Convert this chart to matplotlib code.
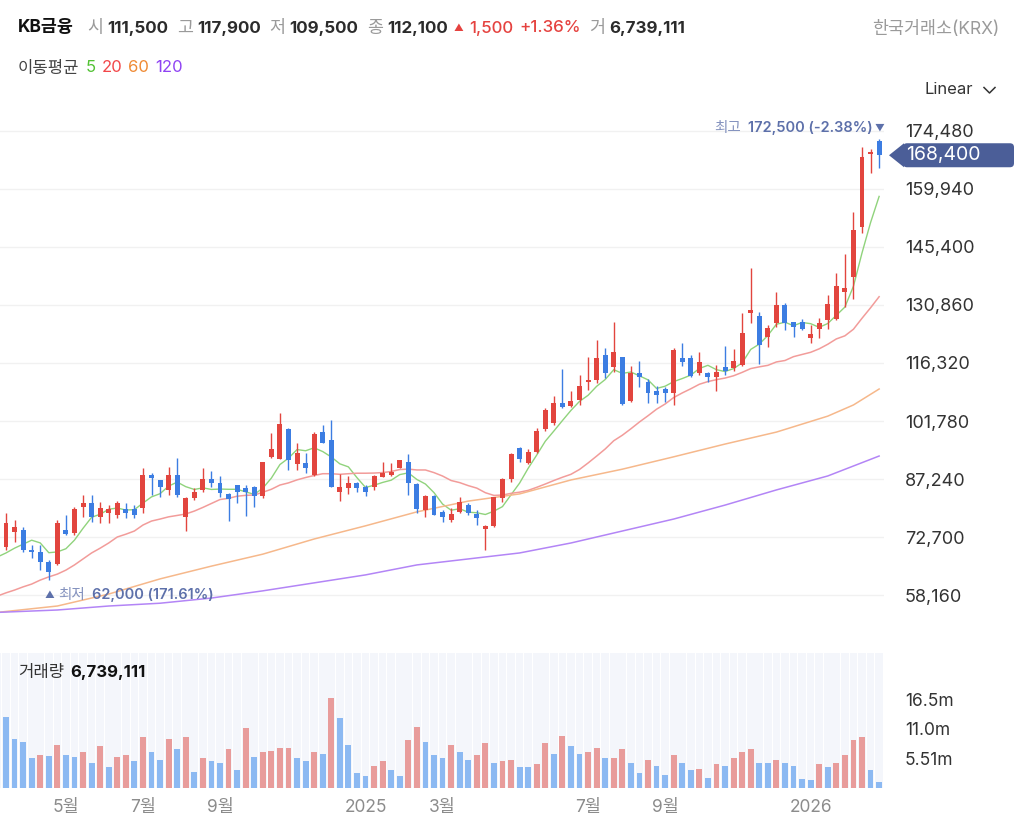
import numpy as np
import pandas as pd
import matplotlib
matplotlib.use("Agg")
import matplotlib.pyplot as plt
from matplotlib.patches import Polygon, FancyBboxPatch
from matplotlib.lines import Line2D
from matplotlib.transforms import IdentityTransform

plt.rcParams['font.family'] = ['Inter', 'Noto Sans CJK KR', 'DejaVu Sans']

# ------------------------------------------------------------------ data
stock_name = "KB금융"
exchange = "한국거래소(KRX)"
first_week = "2024-03-04"          # weekly candles
hover_index = 69                   # week shown in the header

opens = [68500, 70200, 73900, 74500, 69400, 68900, 66400, 65900, 74500, 73700,
         80200, 81200, 77700, 78700, 78200, 79700, 79700, 80000, 88200, 87000,
         84500, 88200, 77700, 82500, 84500, 87200, 86200, 83500, 85700, 85000,
         85200, 83000, 92800, 92200, 99800, 91000, 91200, 88200, 99000, 97000,
         84000, 85000, 86200, 85200, 85200, 87700, 88200, 90000, 91500, 86000,
         79500, 83000, 79000, 77000, 79000, 80700, 78500, 74700, 75500, 82500,
         87200, 95000, 91200, 94000, 99800, 101300, 106300, 105500, 107000, 111500,
         112100, 118300, 115300, 117800, 106800, 113800, 111600, 109300, 109800, 108800,
         117600, 117600, 113800, 113800, 112800, 115300, 115100, 115800, 128900, 128100,
         122800, 126300, 130900, 126600, 126600, 122600, 124800, 127100, 127300, 134100,
         137900, 150400, 168700, 172000]
highs = [70500, 78700, 77000, 75200, 70700, 70700, 66900, 77000, 78200, 80200,
         83200, 83200, 81500, 80700, 81700, 81200, 80700, 90000, 88700, 87000,
         90200, 92500, 82700, 85000, 90000, 89200, 88000, 83700, 85700, 85700,
         85500, 91500, 98800, 103800, 100000, 96300, 93800, 99000, 100800, 102000,
         88500, 88000, 86500, 85700, 88200, 91500, 91200, 92000, 93500, 86200,
         83200, 83200, 79500, 80000, 82700, 81200, 79500, 75700, 82700, 87500,
         93800, 95300, 94800, 100000, 105000, 108000, 114800, 109300, 113300, 117900,
         122100, 120100, 126600, 117800, 115600, 116800, 112300, 110600, 110300, 120100,
         121300, 118300, 119100, 114100, 115800, 120600, 119800, 128900, 140100, 129100,
         125800, 134100, 131400, 126600, 127300, 125800, 127600, 133400, 138900, 143600,
         154200, 170500, 170000, 172500]
lows = [67800, 69400, 71400, 68900, 67400, 64400, 62000, 65700, 73200, 73200,
        77700, 76500, 76200, 76200, 77500, 77500, 77500, 78700, 83200, 82700,
        83200, 82700, 74200, 82000, 84000, 85200, 82700, 76700, 81200, 78000,
        80200, 82500, 92500, 92200, 89500, 89500, 88700, 88000, 96300, 85200,
        81700, 83500, 84000, 83000, 84500, 87700, 88000, 90000, 83200, 78700,
        77700, 78200, 76500, 76500, 78700, 78200, 75700, 69400, 75200, 81500,
        86500, 91500, 91000, 93800, 99300, 100800, 105000, 105300, 105800, 109500,
        111300, 112600, 114100, 105800, 106500, 110300, 106300, 106300, 106500, 105800,
        115600, 112800, 113300, 111600, 109300, 113300, 114300, 115600, 126300, 116100,
        120300, 125300, 124600, 122800, 124600, 121300, 122600, 124800, 127100, 130400,
        132400, 148900, 163900, 165200]
closes = [70100, 76200, 75200, 69400, 68900, 66400, 63900, 76200, 73400, 79700,
          81200, 77700, 80000, 79700, 81200, 78700, 78200, 88200, 87500, 85200,
          88200, 83200, 82500, 84000, 87200, 86200, 83700, 82200, 84000, 84000,
          83000, 91500, 94800, 101000, 92000, 93800, 90000, 98500, 96300, 85200,
          85200, 86200, 85000, 84000, 88000, 88700, 89000, 92000, 86200, 79700,
          83000, 78200, 77700, 78500, 81500, 78700, 77500, 75500, 82700, 87200,
          93500, 92200, 94000, 99300, 104500, 106300, 105300, 106800, 110600, 112100,
          117600, 113800, 119100, 106000, 113800, 112800, 108800, 108300, 108800, 119600,
          116600, 113100, 116600, 112800, 114100, 114300, 116800, 123800, 129600, 120800,
          125100, 130900, 126300, 125300, 124800, 123600, 126300, 131100, 135600, 135100,
          149700, 168000, 169200, 168400]
volumes_m = [13.54, 13.29, 9.18, 8.56, 5.51, 6.07, 6.00, 8.06, 6.07, 5.82,
             6.63, 4.70, 7.75, 3.83, 5.82, 6.07, 4.95, 9.43, 6.63, 5.26,
             9.18, 7.19, 9.43, 3.02, 5.51, 4.95, 4.70, 7.19, 3.27, 11.11,
             5.82, 6.63, 6.94, 7.50, 7.55, 5.51, 4.95, 6.63, 6.38, 16.72,
             13.11, 8.06, 2.71, 2.15, 4.14, 4.95, 3.27, 2.15, 8.87, 11.43,
             8.62, 6.07, 5.51, 8.06, 6.63, 5.26, 6.07, 8.31, 4.70, 4.95,
             5.26, 3.89, 3.85, 4.39, 8.31, 6.38, 9.68, 7.75, 6.38, 6.739111,
             7.50, 5.51, 5.55, 7.19, 4.70, 2.71, 5.26, 4.14, 2.46, 6.07,
             4.70, 3.27, 3.58, 1.90, 4.39, 4.14, 5.51, 6.63, 7.19, 4.70,
             4.65, 5.26, 4.70, 4.14, 1.59, 1.55, 4.39, 3.83, 4.70, 6.07,
             8.87, 9.43, 3.27, 1.03]

# moving-average values before enough history is on screen
ma5_head = [67700, 68700, 69900, 70900, 71900]
ma20_head = [57900, 58700, 59400, 60200, 60900, 61900, 62700, 63400, 64400, 65700,
             67200, 68700, 69900, 71200, 72700, 73400, 74200, 75700, 76700, 77200]
ma_long_idx = [0, 7, 13, 19, 25, 31, 37, 43, 49, 55, 61, 67, 73, 79, 85, 91, 97, 100, 103]
ma60_vals = [53800, 55400, 58400, 62200, 65400, 68400, 72200, 75500, 79000, 81700,
             83500, 87000, 89700, 92800, 96000, 99000, 103000, 105800, 109800]
ma120_vals = [53800, 54400, 55400, 56100, 57400, 59200, 61200, 63200, 65700, 67200,
              68700, 71200, 74200, 77200, 80700, 84500, 88000, 90500, 93000]

price_ticks = [174480, 159940, 145400, 130860, 116320, 101780, 87240, 72700, 58160]
vol_ticks = [5.51e6, 11.02e6, 16.53e6]
vol_tick_labels = ['5.51m', '11.0m', '16.5m']
month_tick_dates = ['2024-05-02', '2024-07-01', '2024-09-02', '2025-01-02',
                    '2025-03-03', '2025-07-01', '2025-09-01', '2026-01-02']
month_tick_labels = ['5월', '7월', '9월', '2025', '3월', '7월', '9월', '2026']
ma_periods = ['5', '20', '60', '120']

# ------------------------------------------------------------------ style
UP = '#e2453e'
DOWN = '#3c7de2'
VUP = '#e89c9b'
VDOWN = '#8cb9f2'
STRIPE = '#f4f6fb'
MA_COLORS = ['#90d37c', '#f29c9a', '#f6b88b', '#b385f6']
LEG_COLORS = ['#52c234', '#f2474a', '#ef8a34', '#8f43f3']
TAG = '#4b5e98'
ANN_B = '#5d70aa'
ANN_L = '#8593bf'

W, H = 1024, 831
fig = plt.figure(figsize=(W / 100, H / 100), dpi=100, facecolor='white')


def fx(px):
    return px / W


def fy(py):
    return 1 - py / H


ax = fig.add_axes([0, fy(640), fx(884), (640 - 100) / H])
axv = fig.add_axes([0, fy(788), fx(884), (788 - 653) / H])

n = len(closes)
x = np.arange(n)
o = np.array(opens, float)
c = np.array(closes, float)
hi = np.array(highs, float)
lo = np.array(lows, float)
vol = np.array(volumes_m) * 1e6
dates = pd.date_range(first_week, periods=n, freq='7D')

# moving averages
cs = pd.Series(c)
ma5 = cs.rolling(5).mean().to_numpy()
ma5[:len(ma5_head)] = ma5_head
ma20 = cs.rolling(20).mean().to_numpy()
ma20[:len(ma20_head)] = ma20_head

ax.plot(x, ma5, color=MA_COLORS[0], lw=1.0, zorder=2)
ax.plot(x, ma20, color=MA_COLORS[1], lw=1.1, zorder=2)
ax.plot(ma_long_idx, ma60_vals, color=MA_COLORS[2], lw=1.1, zorder=2)
ax.plot(ma_long_idx, ma120_vals, color=MA_COLORS[3], lw=1.1, zorder=2)

# candles
up = c >= o
col = np.where(up, UP, DOWN)
ax.vlines(x, lo, hi, colors=col, lw=1.0, zorder=3)
body_h = np.maximum(np.abs(c - o), 350)
ax.bar(x, body_h, bottom=np.minimum(o, c), width=0.58, color=col, linewidth=0, zorder=4)

ax.set_xlim(0.3, 103.57)
ax.set_ylim(46880, 182250)
ax.set_yticks(price_ticks)
ax.set_yticklabels([f'{v:,}' for v in price_ticks])
ax.yaxis.tick_right()
ax.tick_params(axis='y', length=0, pad=15, labelsize=13, labelcolor='#333333')
ax.set_xticks([])
ax.grid(axis='y', color='#f1f1f1', lw=1.0, zorder=0)
for s in ax.spines.values():
    s.set_visible(False)
ax.patch.set_alpha(0)

# volume
vtop = 25.2e6
axv.bar(x, np.full(n, vtop), width=0.9, color=STRIPE, linewidth=0, zorder=0)
vup = np.concatenate([[True], vol[1:] >= vol[:-1]])
axv.bar(x, vol, width=0.68, color=np.where(vup, VUP, VDOWN), linewidth=0, zorder=2)
axv.set_xlim(0.3, 103.57)
axv.set_ylim(0, vtop)
axv.set_yticks(vol_ticks)
axv.set_yticklabels(vol_tick_labels)
axv.yaxis.tick_right()
axv.tick_params(axis='y', length=0, pad=15, labelsize=12.5, labelcolor='#333333')
tick_pos = [int((pd.Timestamp(d) - dates[0]).days // 7) for d in month_tick_dates]
axv.set_xticks(tick_pos)
axv.set_xticklabels(month_tick_labels)
axv.tick_params(axis='x', length=0, pad=8, labelsize=12.5, labelcolor='#8c8c8c')
for s in axv.spines.values():
    s.set_visible(False)

renderer = fig.canvas.get_renderer()


def chain(xpx, ypx, parts):
    for s, kw, gap in parts:
        t = fig.text(fx(xpx), fy(ypx), s, va='center', ha='left', **kw)
        bb = t.get_window_extent(renderer)
        xpx = bb.x1 + gap
    return xpx


# header
hv = hover_index
chg = closes[hv] - closes[hv - 1]
pct = chg / closes[hv - 1] * 100
lab = dict(color='#9a9a9a', fontsize=12.5)
val = dict(color='#2b2b2b', fontsize=12.2, fontweight='bold')
red = dict(color='#e5423f', fontsize=12.2, fontweight='medium')
chain(18, 28, [
    (stock_name, dict(color='#111111', fontsize=12.5, fontweight='bold'), 13),
    ('시', lab, 4), (f'{opens[hv]:,}', val, 9),
    ('고', lab, 4), (f'{highs[hv]:,}', val, 9),
    ('저', lab, 4), (f'{lows[hv]:,}', val, 9),
    ('종', lab, 4), (f'{closes[hv]:,}', val, 5),
    ('▲', dict(color='#e5423f', fontsize=7), 6),
    (f'{chg:,}', red, 6), (f'+{pct:.2f}%', red, 8),
    ('거', lab, 4), (f'{volumes_m[hv] * 1e6:,.0f}', val, 0),
])
fig.text(fx(999), fy(30), exchange, ha='right', va='center', color='#9a9a9a', fontsize=12.5)

# MA legend
parts = [('이동평균', dict(color='#444444', fontsize=12), 6)]
for p, cc in zip(ma_periods, LEG_COLORS):
    parts.append((p, dict(color=cc, fontsize=12), 6))
chain(18, 68, parts)

# Linear selector
fig.text(fx(925), fy(90), 'Linear', ha='left', va='center', color='#333333', fontsize=12)
fig.add_artist(Line2D([984, 989.5, 995], [H - 87.5, H - 93, H - 87.5], color='#333333',
                      lw=1.1, transform=IdentityTransform()))

# volume title
chain(18, 673, [('거래량', dict(color='#333333', fontsize=12), 6),
                (f'{volumes_m[hv] * 1e6:,.0f}', dict(color='#111111', fontsize=12, fontweight='bold'), 0)])

# last price tag
last = c[-1]
_, yd = ax.transData.transform((x[-1], last))
hh = 12
fig.add_artist(Polygon([[889, yd], [904, yd + hh], [904, yd - hh]], closed=True,
                       transform=IdentityTransform(), color=TAG, lw=0))
fig.add_artist(FancyBboxPatch((903, yd - hh), 111, 2 * hh,
                              boxstyle='round,pad=0,rounding_size=4',
                              transform=IdentityTransform(), color=TAG, lw=0))
fig.text(fx(906), yd / H, f'{last:,.0f}', color='white', fontsize=14, va='center', ha='left')

# highest / lowest annotations
imax = int(np.argmax(hi))
hmax = hi[imax]
xd, yd = ax.transData.transform((imax, hmax))
fig.text(xd / W, (yd + 11) / H, '▼', color=ANN_B, fontsize=7, ha='center', va='center')
tb = fig.text((xd - 6) / W, (yd + 11) / H, f'{hmax:,.0f} ({(last - hmax) / hmax * 100:.2f}%)',
              color=ANN_B, fontsize=10.5, fontweight='semibold', ha='right', va='center')
bb = tb.get_window_extent(renderer)
fig.text((bb.x0 - 7) / W, (yd + 11) / H, '최고', color=ANN_L, fontsize=10.5, ha='right', va='center')

imin = int(np.argmin(lo))
lmin = lo[imin]
xd, yd = ax.transData.transform((imin, lmin))
yl = H - yd + 15
chain(xd - 4, yl, [('▲', dict(color=ANN_B, fontsize=7), 4),
                   ('최저', dict(color=ANN_L, fontsize=10.5), 7),
                   (f'{lmin:,.0f} ({(last - lmin) / lmin * 100:.2f}%)',
                    dict(color=ANN_B, fontsize=10.5, fontweight='semibold'), 0)])

fig.savefig('out.png', dpi=100, facecolor='white')
